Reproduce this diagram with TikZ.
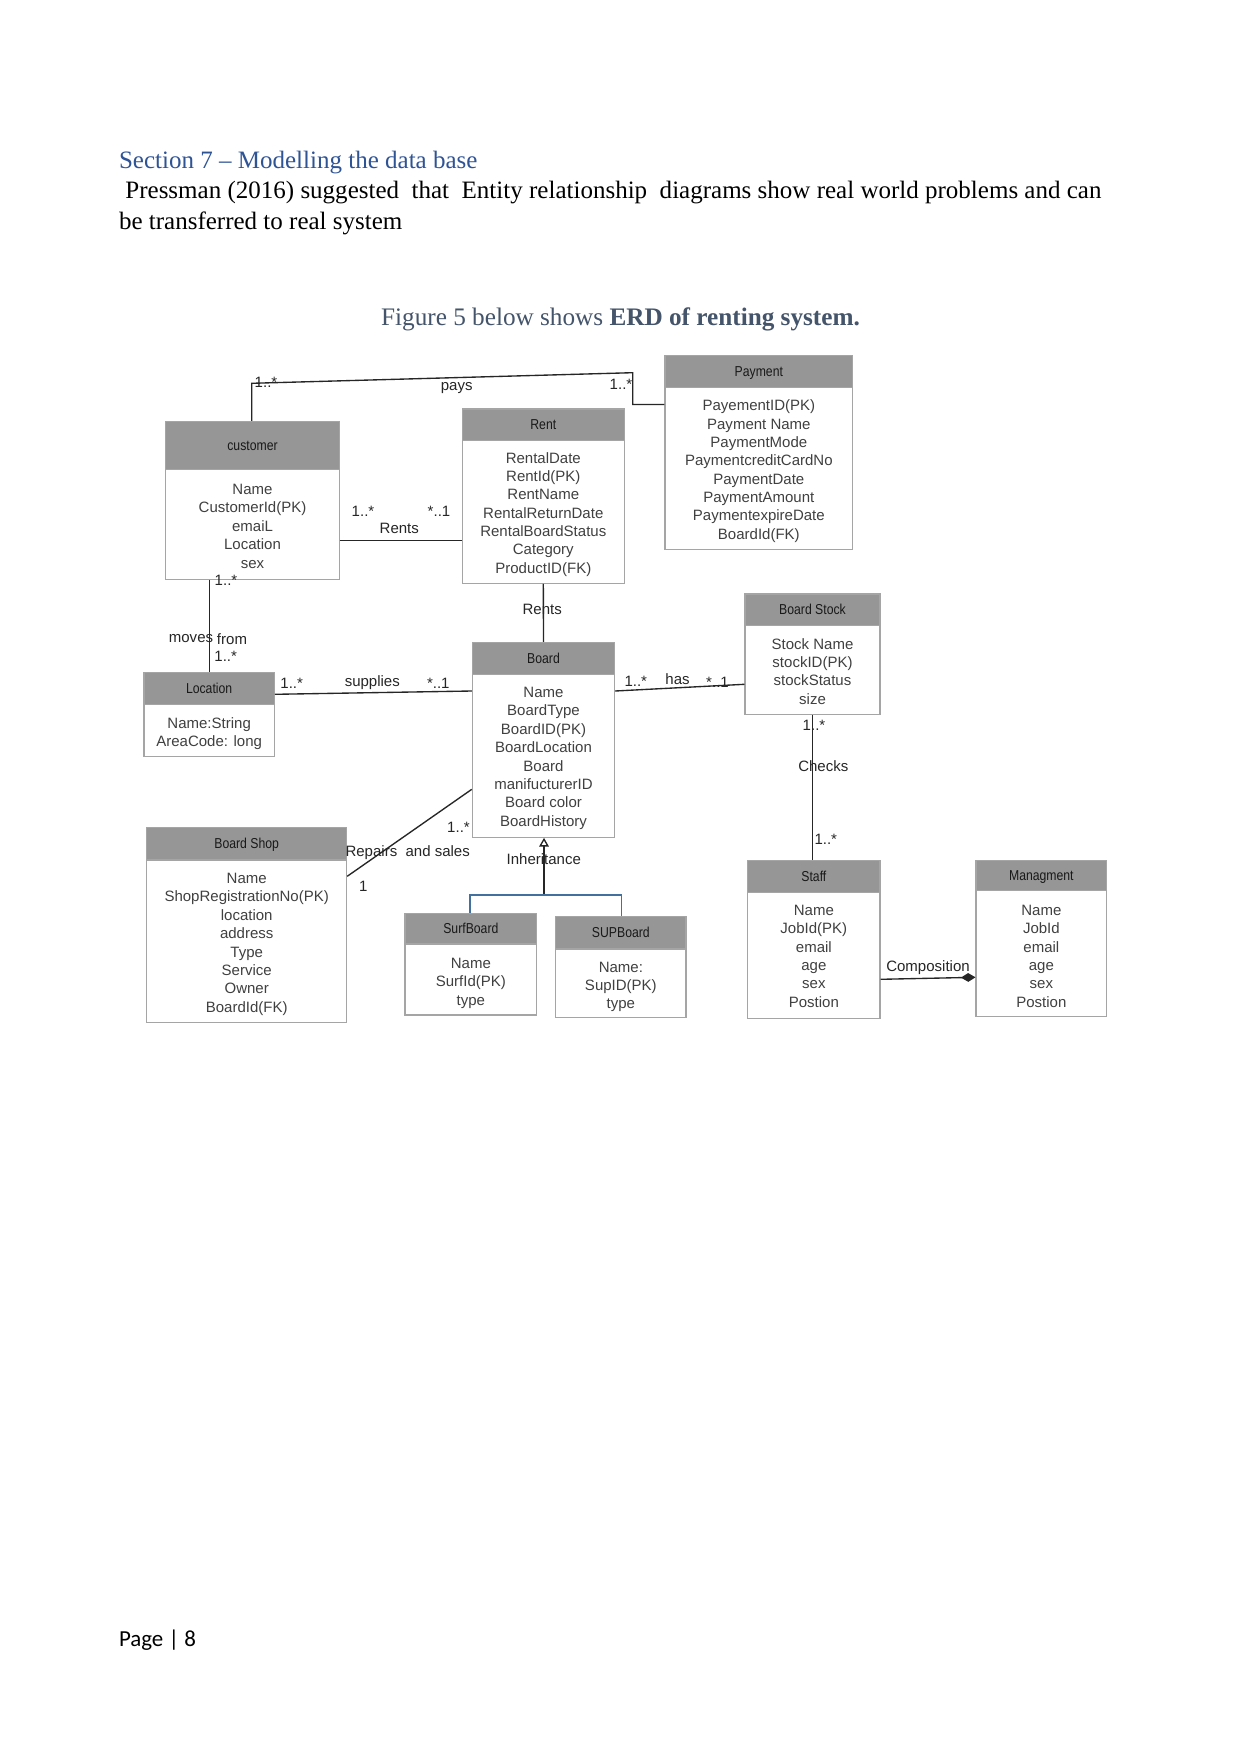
\documentclass[tikz,border=0pt]{standalone}
\usepackage{fontspec}
\setmainfont{Liberation Serif}
\newfontfamily\erdfont{Liberation Sans}
\newfontfamily\erdnarrow[FakeStretch=0.85]{Liberation Sans}
\newfontfamily\pagefont{Carlito}
\usetikzlibrary{fit,arrows.meta}
\definecolor{hdrgray}{RGB}{150,150,150}
\definecolor{boxgray}{RGB}{165,165,165}
\definecolor{attrcol}{RGB}{64,64,64}
\definecolor{lnk}{RGB}{38,38,38}
\definecolor{headblue}{RGB}{47,84,150}
\definecolor{capgray}{RGB}{68,84,106}
\definecolor{inhblue}{RGB}{65,113,156}
\tikzset{
  bodybox/.style={draw=boxgray, fill=white, line width=0.5pt, inner sep=0pt},
  hdrbox/.style={draw=boxgray, fill=hdrgray, line width=0.5pt, inner sep=0pt},
  hdrtxt/.style={font=\erdnarrow\fontsize{6.9}{7.5}\selectfont, text=black!90, inner sep=0pt},
  attrtxt/.style={font=\erdfont\fontsize{7.2}{8.8}\selectfont, text=attrcol, inner sep=0pt, align=center},
  lbl/.style={font=\erdfont\fontsize{7.2}{8.6}\selectfont, text=lnk, inner sep=0pt},
  lnkline/.style={draw=lnk, line width=0.65pt},
  doctext/.style={font=\fontsize{12}{14}\selectfont, inner sep=0pt, anchor=base west},
}
% #1 name, #2 left, #3 top, #4 right, #5 header bottom, #6 bottom, #7 first attribute y, #8 title, #9 attributes
\newcommand\erdentity[9]{%
  \node[bodybox, fit={(#2,#3) (#4,#6)}] (#1) {};
  \node[hdrbox, fit={(#2,#3) (#4,#5)}] (#1-h) {};
  \node[hdrtxt, anchor=base] (#1-t) at ({(#2+#4)/2},{(#3+#5)/2+4.8}) {#8};
  \node[attrtxt, anchor=north] (#1-a) at ({(#2+#4)/2},{#7-5.4}) {#9};
}
\begin{document}
\begin{tikzpicture}[x=0.4797pt,y=-0.4797pt]
\useasboundingbox[fill=white] (0,0) rectangle (1241,1754);

% document text
\node[doctext, text=headblue] (head) at (118.6,168) {Section 7 -- Modelling the data base};
\node[doctext] (para1) at (125,198.5) {Pressman (2016) suggested\ \ that\ \ Entity relationship\ \ diagrams show real world problems and can};
\node[doctext] (para2) at (118.6,229) {be transferred to real system};
\node[font=\fontsize{12.1}{14}\selectfont, text=capgray, inner sep=0pt, anchor=base] (caption) at (620.5,325.8) {Figure 5 below shows \textbf{ERD of renting system.}};
\node[font=\pagefont\fontsize{11}{13}\selectfont, inner sep=0pt, anchor=base west] (pagenum) at (118.6,1646.7) {Page | 8};

% entities
\erdentity{cust}{165.7}{421.3}{339.3}{469.3}{579.3}{489.3}{customer}{Name\\CustomerId(PK)\\emaiL\\Location\\sex}
\erdentity{rent}{462.3}{409}{624.3}{440.7}{583.3}{457.3}{Rent}{RentalDate\\RentId(PK)\\RentName\\RentalReturnDate\\RentalBoardStatus\\Category\\ProductID(FK)}
\erdentity{pay}{665}{355.7}{852.7}{387.7}{549.3}{405}{Payment}{PayementID(PK)\\Payment Name\\PaymentMode\\PaymentcreditCardNo\\PaymentDate\\PaymentAmount\\PaymentexpireDate\\BoardId(FK)}
\erdentity{loc}{144}{672.7}{274.3}{704.3}{756.7}{722.3}{Location}{Name:String\\AreaCode: long}
\erdentity{board}{472.3}{642.3}{614.7}{674.3}{837.3}{692.3}{Board}{Name\\BoardType\\BoardID(PK)\\BoardLocation\\Board\\manifucturerID\\Board color\\BoardHistory}
\erdentity{stock}{745}{594}{880}{625.7}{714.3}{643.3}{Board Stock}{Stock Name\\stockID(PK)\\stockStatus\\size}
\erdentity{staff}{747.7}{860.7}{880}{892.3}{1018.3}{910}{Staff}{Name\\JobId(PK)\\email\\age\\sex\\Postion}
\erdentity{mgmt}{976}{860.7}{1106.7}{890.7}{1016.7}{910}{Managment}{Name\\JobId\\email\\age\\sex\\Postion}
\erdentity{shop}{146.7}{827.3}{346.7}{860}{1022.7}{878.3}{Board Shop}{Name\\ShopRegistrationNo(PK)\\location\\address\\Type\\Service\\Owner\\BoardId(FK)}
\erdentity{surf}{405}{913.3}{536.7}{944}{1015}{963.3}{SurfBoard}{Name\\SurfId(PK)\\type}
\erdentity{sup}{555.7}{916.7}{686}{949}{1017.7}{966.7}{SUPBoard}{Name:\\SupID(PK)\\type}

% connectors
\coordinate (pA) at (251.7,383.3);
\coordinate (pB) at (632.7,372.7);
\coordinate (pC) at (632.7,404.5);
\draw[lnkline] (cust.north -| pA) -- (pA) -- (pB) -- (pC) -- (pC -| pay.west);
\draw[lnkline] (cust.east |- 0,540.7) -- (rent.west |- 0,540.7);
\draw[lnkline] (cust.south -| 209.3,0) -- (loc.north -| 209.3,0);
\draw[lnkline] (rent.south) -- (board.north);
\draw[lnkline] (loc.east |- 0,694.3) -- (board.west |- 0,691);
\draw[lnkline] (board.east |- 0,691) -- (stock.west |- 0,684.3);
\draw[lnkline] (stock.south -| 812.3,0) -- (staff.north -| 812.3,0);
\draw[lnkline] (shop.east |- 0,876.3) -- (board.west |- 0,789.3);
\draw[lnkline, -{Diamond[length=7pt,width=4.2pt,fill=lnk]}] (staff.east |- 0,979.3) -- (mgmt.west |- 0,977.3);
\coordinate (inhj) at (544,895);
\draw[lnkline, -{Triangle[open,length=4.2pt,width=4.6pt,fill=white]}] (inhj) -- (board.south -| inhj);
\draw[draw=inhblue, line width=0.6pt] (surf.north -| 470,0) -- (470,895) -- (621.7,895) -- (sup.north -| 621.7,0);

% labels
\node[lbl] (l1) at (266,382) {1..*};
\node[lbl] (l2) at (456.7,388) {pays};
\node[lbl] (l3) at (621,384.3) {1..*};
\node[lbl] (l4) at (363,511.7) {1..*};
\node[lbl] (l5) at (439,511.7) {*..1};
\node[lbl] (l6) at (399.3,528.3) {Rents};
\node[lbl] (l7) at (226,580) {1..*};
\node[lbl] (l8) at (191,639) {moves};
\node[lbl] (l9) at (232,639) {from};
\node[lbl] (l10) at (225.7,656.7) {1..*};
\node[lbl] (l11) at (542.2,609) {Rents};
\node[lbl] (l12) at (291.7,683.3) {1..*};
\node[lbl] (l13) at (372.3,683) {supplies};
\node[lbl] (l14) at (438.3,683) {*..1};
\node[lbl] (l15) at (635.8,681.7) {1..*};
\node[lbl] (l16) at (677.5,679) {has};
\node[lbl] (l17) at (717.5,682.3) {*..1};
\node[lbl] (l18) at (814,725) {1..*};
\node[lbl] (l19) at (823.3,765.7) {Checks};
\node[lbl] (l20) at (825.8,839.3) {1..*};
\node[lbl] (l21) at (407.7,852.3) {Repairs\ \ and sales};
\node[lbl] (l22) at (458.5,827.7) {1..*};
\node[lbl] (l23) at (363.3,886) {1};
\node[lbl] (l24) at (543.8,859) {Inheritance};
\node[lbl] (l25) at (928,967.3) {Composition};
\end{tikzpicture}
\end{document}
